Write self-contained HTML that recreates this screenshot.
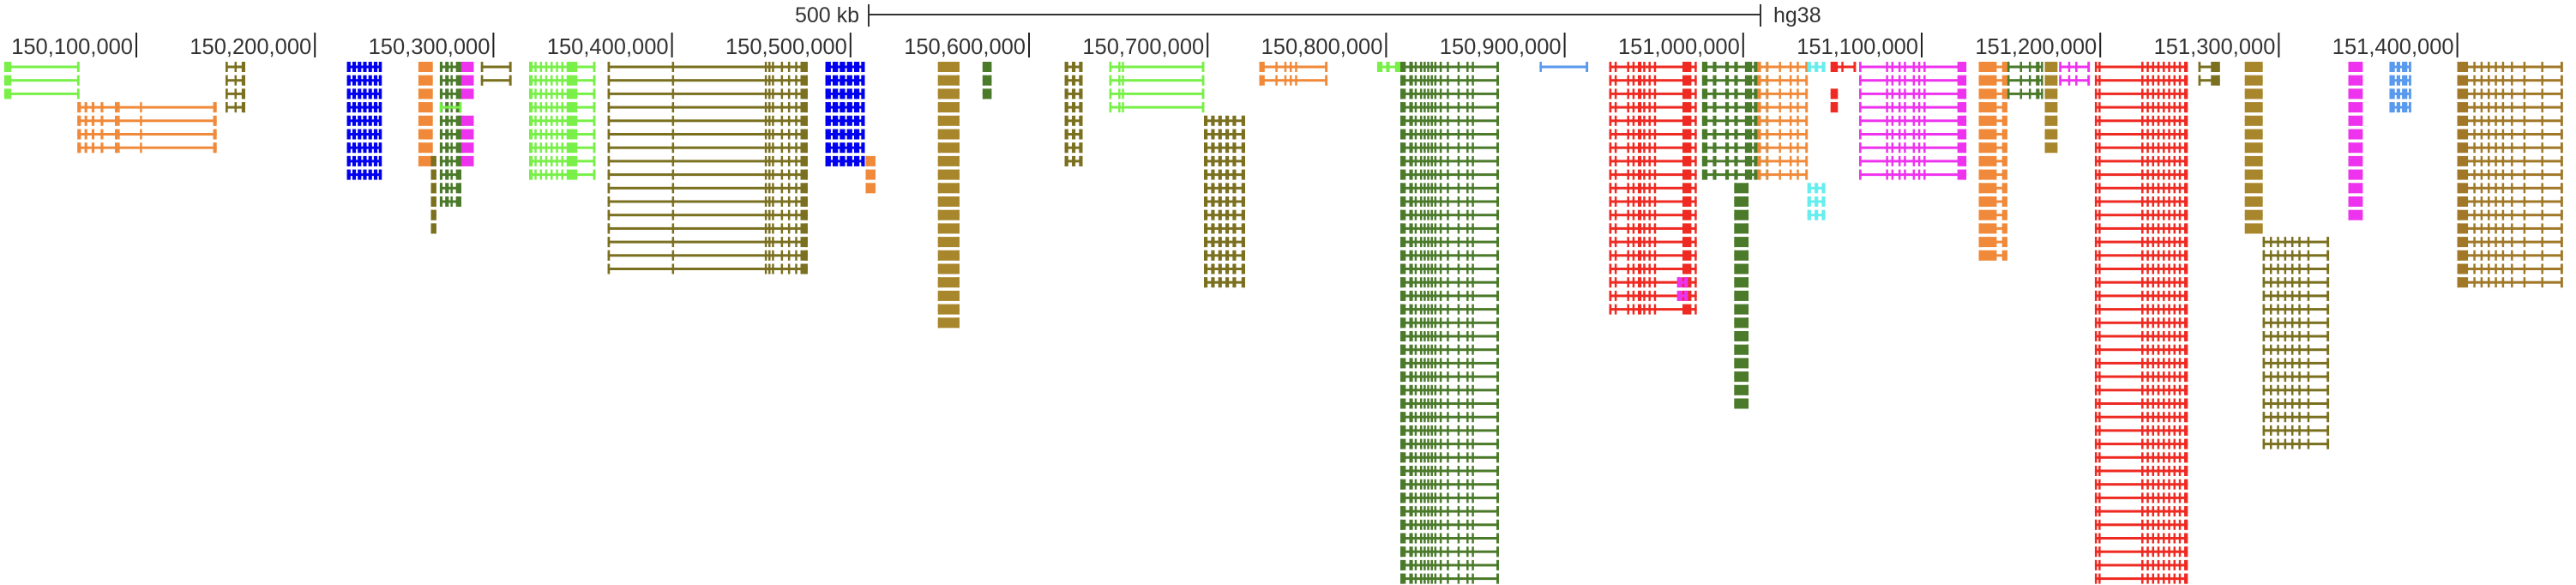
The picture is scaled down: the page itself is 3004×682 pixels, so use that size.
<!DOCTYPE html>
<html><head><meta charset="utf-8"><style>
html,body{margin:0;padding:0;background:#fff;}
svg{display:block;}
text{font-family:"Liberation Sans",sans-serif;}
</style></head><body>
<svg id="chart" width="3004" height="682" viewBox="0 0 3004 682" xmlns="http://www.w3.org/2000/svg">
<g>
<line x1="1013" y1="17" x2="2053" y2="17" stroke="#333" stroke-width="2"/>
<line x1="1013" y1="5" x2="1013" y2="31" stroke="#333" stroke-width="2"/>
<line x1="2053" y1="5" x2="2053" y2="31" stroke="#333" stroke-width="2"/>
<text x="1002" y="26" font-size="25" text-anchor="end" fill="#333">500 kb</text>
<text x="2068" y="26" font-size="25" fill="#333">hg38</text>
</g>
<g id="axis"></g>
<g id="genes"></g>
</svg>
<script>
const tickKb=[100,200,300,400,500,600,700,800,900,1000,1100,1200,1300,1400];
const tickLabels=["150,100,000","150,200,000","150,300,000","150,400,000","150,500,000","150,600,000","150,700,000","150,800,000","150,900,000","151,000,000","151,100,000","151,200,000","151,300,000","151,400,000"];
const geneStarts=[26,150,67,218,258,265,270,282,282,270,293,320,364,486,508.5,549,574,620,645,698,729,795,808,886,925,963,977,995,1008,1036,1036,1049,1049,1065,1132,1148,1169,1177,1197,1255,1281,1291,1339,1362,1400];
const geneEnds=[68,161,145,237,266,268,282,289,289,282,310,357,476,508,514,561,579,630,698,721,767,808,863,913,974,969,1014,1003,1036,1046,1046,1063,1053,1125,1148,1168,1176,1194,1249,1267,1291,1328,1347,1374,1459];
const geneRow0=[0,0,3,0,0,7,0,0,4,3,0,0,0,0,7,0,0,0,0,4,0,0,0,0,0,16,0,9,0,0,9,0,2,0,0,0,0,0,0,0,0,13,0,0,0];
const geneRowCount=[3,4,4,9,8,6,11,3,4,1,2,9,16,8,3,20,3,8,4,13,2,1,39,1,19,2,9,17,9,1,3,1,2,9,15,3,7,2,39,2,13,16,12,4,17];
const geneColors=["#78f048","#7a7020","#f08a3a","#0000ee","#f08a3a","#7a7020","#4b7a2a","#ee33ee","#ee33ee","#78f048","#7a7020","#78f048","#7a7020","#0000ee","#f08a3a","#a8862c","#4b7a2a","#7a7020","#78f048","#7a7020","#f08a3a","#78f048","#4b7a2a","#5a9aee","#ee2a22","#ee33ee","#4b7a2a","#4b7a2a","#f08a3a","#66eeee","#66eeee","#ee2a22","#ee2a22","#ee33ee","#f08a3a","#4b7a2a","#a8862c","#ee33ee","#ee2a22","#7a7020","#a8862c","#7a7020","#ee33ee","#5a9aee","#a07828"];
const geneExons=[
[[27,3],[67,0.8]],
[[150,1],[155,1],[159,2]],
[[67,2],[71,1.5],[75,1.5],[80,1.5],[88,1.5],[89.5,1],[102,1],[143,1.5]],
[[218,2],[221,2],[224,2],[227,2],[230,2],[233,2],[236,1.5]],
[[258,8]],
[[265,3]],
[[270,1.5],[273,2],[276,1],[279,3]],
[[282,6.5]],
[[282,6.5]],
[[270,1],[281,1]],
[[293,1],[309,1]],
[[320,2],[323,1],[326,1],[329,1],[332,1],[335,1],[338,1],[341,4],[345,2],[356,1]],
[[364,1],[400,0.6],[452,1],[454,1],[456,1],[461,1],[465,0.6],[469,0.6],[472,4]],
[[486,3],[490,3],[494,3],[498,3],[502,3],[506,2]],
[[508.5,5]],
[[549,12]],
[[574,5]],
[[620,2],[624,2],[628,2]],
[[645,1],[650,1],[652,1],[697,1]],
[[698,2],[702,2],[706,2],[710,2],[714,2],[719,2]],
[[729,3],[738,1],[743,1],[746,1],[749,1],[766,1]],
[[795,3],[800,2],[805,3]],
[[808,3],[813,2],[816,1],[819,1],[821,1],[823,1],[825,1],[827,1],[830,1],[834,1],[840,1],[845,1],[848,1],[862,1]],
[[886,0.8],[912,0.8]],
[[925,1],[928,1],[935,1],[938,1],[941,2],[944,1],[947,1],[950,1],[966,5]],
[[963,3],[967,2]],
[[977,3],[983,2],[990,2],[995,2],[1001,4],[1006,2]],
[[995,8]],
[[1008,2],[1013,1],[1020,1],[1026,1],[1030,1],[1035,1]],
[[1036,2],[1040,2],[1044,1]],
[[1036,2],[1040,2],[1044,1]],
[[1049,4],[1055,1],[1062,1]],
[[1049,4]],
[[1065,1],[1080,1],[1083,1],[1087,1],[1090,1],[1095,1],[1098,1],[1101,1],[1120,5]],
[[1132,10],[1145,2]],
[[1148,1],[1155,1],[1160,1],[1164,2]],
[[1169,7]],
[[1177,1],[1182,1],[1186,1],[1193,1]],
[[1197,1],[1199,0.6],[1223,1],[1226,1],[1229,1],[1232,1],[1235,1],[1238,1],[1241,1],[1244,1],[1247,2]],
[[1255,1],[1262,5]],
[[1281,9]],
[[1291,1],[1295,1],[1299,1],[1303,1],[1307,1],[1311,1],[1316,1],[1327,1]],
[[1339,8]],
[[1362,3],[1366,2],[1369,3],[1373,1]],
[[1400,6],[1409,1],[1413,1],[1417,1],[1421,1],[1425,1],[1430,1],[1437,1],[1447,1],[1458,1]]
];
const NS="http://www.w3.org/2000/svg";
function xScale(kb){return 159+(kb-100)*2.082;}
function yScale(r){return 78+r*15.7;}
const axis=document.getElementById('axis');
tickKb.forEach((k,i)=>{
  const x=xScale(k);
  const l=document.createElementNS(NS,'line');
  
  
  l.setAttribute('x1',x);l.setAttribute('x2',x);l.setAttribute('y1',38);l.setAttribute('y2',67);
  l.setAttribute('stroke','#222');l.setAttribute('stroke-width','2');
  axis.appendChild(l);
  const t=document.createElementNS(NS,'text');
  
  
  t.setAttribute('x',x-4);t.setAttribute('y',63);t.setAttribute('font-size','25.5');
  t.setAttribute('text-anchor','end');t.setAttribute('fill','#333');
  t.textContent=tickLabels[i];
  axis.appendChild(t);
});
const genes=document.getElementById('genes');
geneStarts.forEach((s,g)=>{
  const e=geneEnds[g],c=geneColors[g];
  for(let r=0;r<geneRowCount[g];r++){
    const cy=yScale(geneRow0[g]+r);
    const grp=document.createElementNS(NS,'g');
    
    
    grp.setAttribute('fill',c);
    const x1=xScale(s),x2=xScale(e);
    const ln=document.createElementNS(NS,'rect');
    ln.setAttribute('x',x1);ln.setAttribute('y',cy-1.5);ln.setAttribute('width',Math.max(1,x2-x1));ln.setAttribute('height',3);
    grp.appendChild(ln);
    [x1,x2-2.5].forEach(xx=>{
      const tk=document.createElementNS(NS,'rect');
      tk.setAttribute('x',xx);tk.setAttribute('y',cy-6);tk.setAttribute('width',2.5);tk.setAttribute('height',12);
      grp.appendChild(tk);
    });
    geneExons[g].forEach(ex=>{
      const xa=xScale(ex[0]);
      const w=Math.max(2.5,ex[1]*2.082);
      const rc=document.createElementNS(NS,'rect');
      rc.setAttribute('x',xa);rc.setAttribute('y',cy-6);rc.setAttribute('width',w);rc.setAttribute('height',12);
      grp.appendChild(rc);
    });
    genes.appendChild(grp);
  }
});
</script>
</body></html>
